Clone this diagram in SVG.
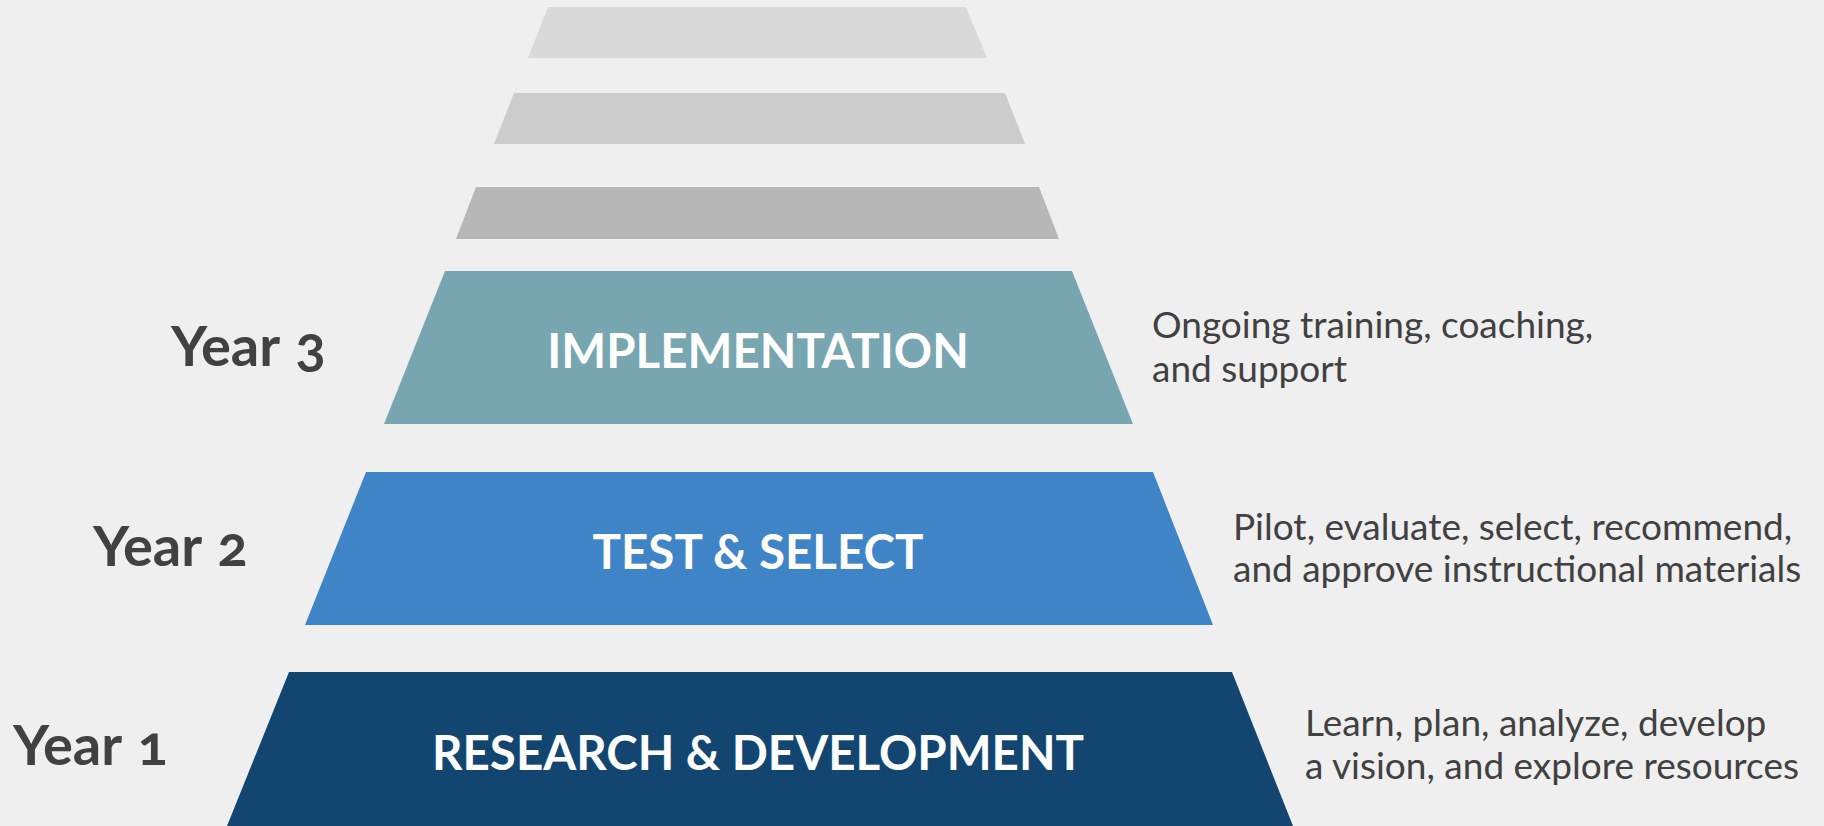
<svg xmlns="http://www.w3.org/2000/svg" width="1824" height="826" viewBox="0 0 1824 826">
<style>
.year{font-family:Lato,"Liberation Sans",sans-serif;font-weight:700;font-size:56px;fill:#414141;font-variant-numeric:oldstyle-nums;word-spacing:3px;}
.lbl{font-family:Lato,"Liberation Sans",sans-serif;font-weight:700;font-size:47.5px;fill:#ffffff;text-anchor:middle;}
.desc{font-family:Lato,"Liberation Sans",sans-serif;font-weight:400;font-size:37px;fill:#414141;}
</style>
<rect x="0" y="0" width="1824" height="826" fill="#efefef"/>
<g id="tier6"><polygon points="548,7 966,7 987,58 528,58" fill="#d9d9d9"/></g>
<g id="tier5"><polygon points="514,93 1005,93 1025,144 494,144" fill="#cccccc"/></g>
<g id="tier4"><polygon points="476,187 1039,187 1059,239 456,239" fill="#b7b7b7"/></g>
<g id="implementation">
<polygon points="445,271 1072,271 1133,424 384,424" fill="#77a5b0"/>
<text class="lbl" x="758" y="368">IMPLEMENTATION</text>
<text class="year" x="171" y="366">Year 3</text>
<text class="desc" x="1152" y="338">Ongoing training, coaching,</text>
<text class="desc" x="1152" y="382">and support</text>
</g>
<g id="test-select">
<polygon points="366,472 1153,472 1213,625 305,625" fill="#3f84c6"/>
<text class="lbl" x="758" y="569">TEST &amp; SELECT</text>
<text class="year" x="93" y="566">Year 2</text>
<text class="desc" x="1233" y="540">Pilot, evaluate, select, recommend,</text>
<text class="desc" x="1233" y="582">and approve instructional materials</text>
</g>
<g id="research-development">
<polygon points="289,672 1232,672 1293,826 227,826" fill="#124671"/>
<text class="lbl" x="758" y="770">RESEARCH &amp; DEVELOPMENT</text>
<text class="year" x="13" y="765">Year 1</text>
<text class="desc" x="1305" y="736">Learn, plan, analyze, develop</text>
<text class="desc" x="1305" y="779">a vision, and explore resources</text>
</g>
<g id="connectors"></g>
</svg>
